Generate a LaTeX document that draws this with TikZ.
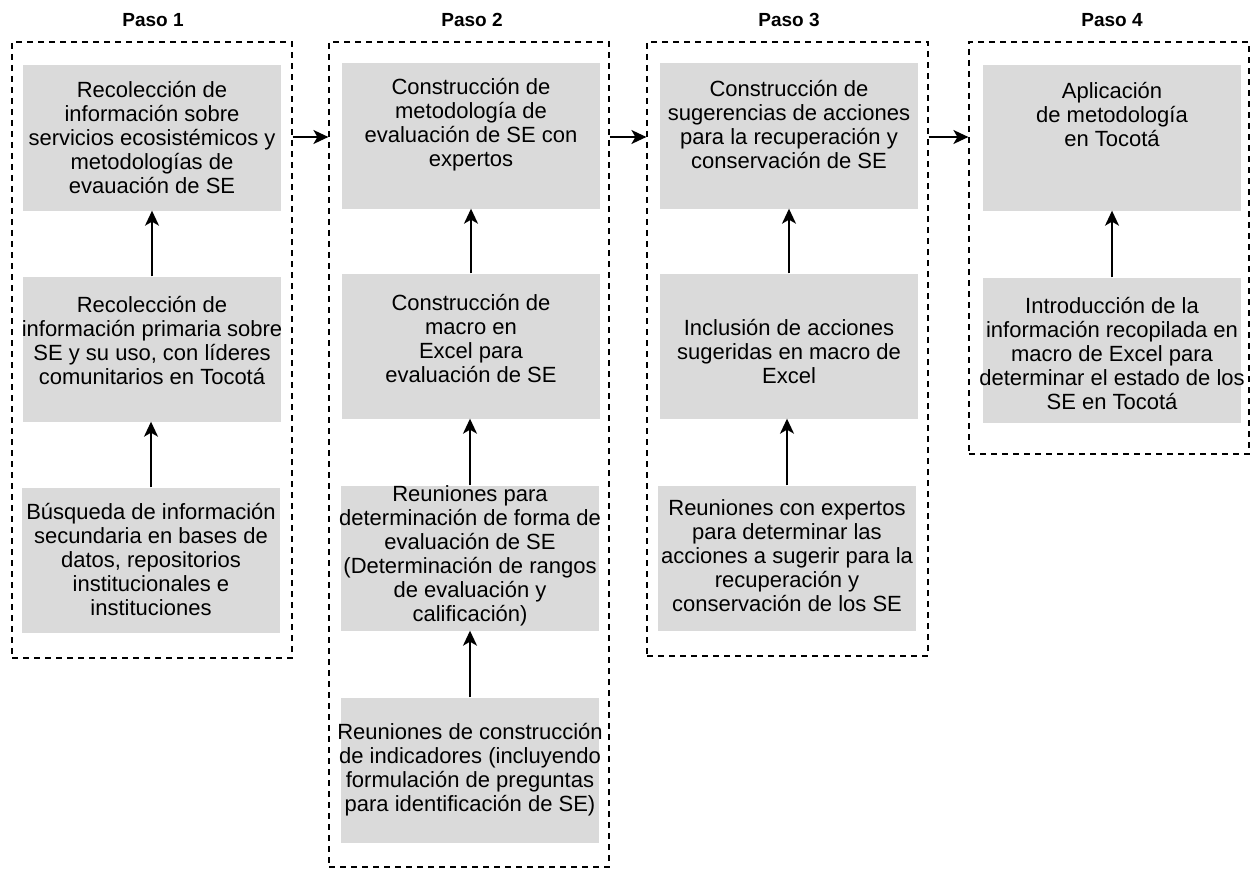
\documentclass[tikz,border=0pt]{standalone}
\usepackage{fontspec}
\setmainfont{Liberation Sans}
\usepackage{tikz}
\usetikzlibrary{arrows.meta}

\definecolor{boxgray}{RGB}{218,218,218}
\tikzset{
  box/.style={fill=boxgray,minimum width=258pt,minimum height=145pt,inner sep=0pt},
  txt/.style={align=center,inner sep=0pt,font=\fontsize{22}{24}\selectfont},
  frame/.style={draw,dash pattern=on 6pt off 5pt,line width=1.2pt,inner sep=0pt},
  paso/.style={font=\fontsize{19}{22}\selectfont\bfseries}
}

\begin{document}
\begin{tikzpicture}[x=1pt,y=-1pt,>={Stealth[length=15pt,width=14pt,inset=4pt]}]
    \useasboundingbox (0,0) rectangle (1252,869) ;

    % marcos de cada paso
    \node[frame,minimum width=280pt,minimum height=616pt] (f1) at (152,350) {} ;
    \node[frame,minimum width=280pt,minimum height=825pt] (f2) at (469,454.5) {} ;
    \node[frame,minimum width=281pt,minimum height=614pt] (f3) at (787.5,349) {} ;
    \node[frame,minimum width=280pt,minimum height=412pt] (f4) at (1109,248) {} ;

    \node[paso] (t1) at (153,20) {Paso 1} ;
    \node[paso] (t2) at (472,20) {Paso 2} ;
    \node[paso] (t3) at (789,20) {Paso 3} ;
    \node[paso] (t4) at (1112,20) {Paso 4} ;

    % Paso 1
    \node[box,label={[txt]center:{Recolección de\\información sobre\\servicios ecosistémicos y\\metodologías de\\evauación de SE}}] (b11) at (152,138) {} ;
    \node[box,label={[txt,yshift=8pt]center:{Recolección de\\información primaria sobre\\SE y su uso, con líderes\\comunitarios en Tocotá}}] (b12) at (152,349) {} ;
    \node[box,label={[txt]center:{Búsqueda de información\\secundaria en bases de\\datos, repositorios\\institucionales e\\instituciones}}] (b13) at (151,560) {} ;

    % Paso 2
    \node[box,label={[txt,yshift=11pt]center:{Construcción de\\metodología de\\evaluación de SE con\\expertos}}] (b21) at (471,136) {} ;
    \node[box,label={[txt,yshift=7pt]center:{Construcción de\\macro en\\Excel para\\evaluación de SE}}] (b22) at (471,346) {} ;
    \node[box,label={[txt,yshift=2pt]center:{Reuniones para\\determinación de forma de\\evaluación de SE\\(Determinación de rangos\\de evaluación y\\calificación)}}] (b23) at (470,558) {} ;
    \node[box,label={[txt]center:{Reuniones de construcción\\de indicadores (incluyendo\\formulación de preguntas\\para identificación de SE)}}] (b24) at (470,770) {} ;

    % Paso 3
    \node[box,label={[txt,yshift=11pt]center:{Construcción de\\sugerencias de acciones\\para la recuperación y\\conservación de SE}}] (b31) at (789,136) {} ;
    \node[box,label={[txt,yshift=-6pt]center:{Inclusión de acciones\\sugeridas en macro de\\Excel}}] (b32) at (789,346) {} ;
    \node[box,label={[txt,yshift=2pt]center:{Reuniones con expertos\\para determinar las\\acciones a sugerir para la\\recuperación y\\conservación de los SE}}] (b33) at (787,558) {} ;

    % Paso 4
    \node[box,label={[txt,yshift=23pt]center:{Aplicación\\de metodología\\en Tocotá}}] (b41) at (1112,138) {} ;
    \node[box,label={[txt,yshift=-4pt]center:{Introducción de la\\información recopilada en\\macro de Excel para\\determinar el estado de los\\SE en Tocotá}}] (b42) at (1112,350) {} ;

    % flechas
    \draw[->,line width=1.6pt] (b12) -- (b11) ;
    \draw[->,line width=1.6pt] (b13) -- (b13 |- b12.south) ;
    \draw[->,line width=1.6pt] (b22) -- (b21) ;
    \draw[->,line width=1.6pt] (b23) -- (b23 |- b22.south) ;
    \draw[->,line width=1.6pt] (b24) -- (b23) ;
    \draw[->,line width=1.6pt] (b32) -- (b31) ;
    \draw[->,line width=1.6pt] (b33) -- (b33 |- b32.south) ;
    \draw[->,line width=1.6pt] (b42) -- (b41) ;

    \draw[->,line width=1.6pt] (f1.east |- 0,137) -- (f2.west |- 0,137) ;
    \draw[->,line width=1.6pt] (f2.east |- 0,137) -- (f3.west |- 0,137) ;
    \draw[->,line width=1.6pt] (f3.east |- 0,137) -- (f4.west |- 0,137) ;
\end{tikzpicture}
\end{document}
